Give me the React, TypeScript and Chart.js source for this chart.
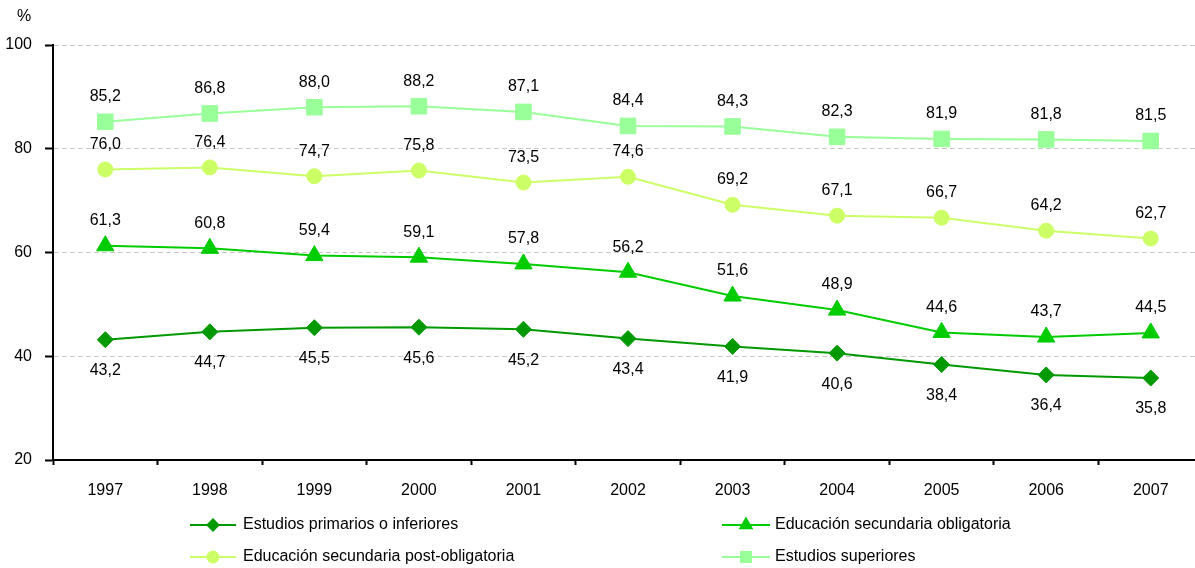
import { useEffect, useRef } from "react";
import { Chart, registerables } from "chart.js";
import { drawPoint } from "chart.js/helpers";

Chart.register(...registerables);

const years = ["1997", "1998", "1999", "2000", "2001", "2002", "2003", "2004", "2005", "2006", "2007"];
const primarios = [43.2, 44.7, 45.5, 45.6, 45.2, 43.4, 41.9, 40.6, 38.4, 36.4, 35.8];
const secundariaObligatoria = [61.3, 60.8, 59.4, 59.1, 57.8, 56.2, 51.6, 48.9, 44.6, 43.7, 44.5];
const secundariaPost = [76.0, 76.4, 74.7, 75.8, 73.5, 74.6, 69.2, 67.1, 66.7, 64.2, 62.7];
const superiores = [85.2, 86.8, 88.0, 88.2, 87.1, 84.4, 84.3, 82.3, 81.9, 81.8, 81.5];
const seriesNames = [
  "Estudios primarios o inferiores",
  "Educación secundaria obligatoria",
  "Educación secundaria post-obligatoria",
  "Estudios superiores",
];
const yMin = 20;
const yMax = 100;
const yStep = 20;
const unitLabel = "%";

const FONT = "'Liberation Sans', Arial, sans-serif";

const dataLabelPlugin = {
  id: "dataLabels",
  afterDatasetsDraw(chart: any) {
    const ctx = chart.ctx;
    ctx.save();
    ctx.font = `16px ${FONT}`;
    ctx.fillStyle = "#000";
    ctx.textAlign = "center";
    ctx.textBaseline = "middle";
    chart.data.datasets.forEach((ds: any, i: number) => {
      const meta = chart.getDatasetMeta(i);
      meta.data.forEach((el: any, j: number) => {
        const v = ds.data[j] as number;
        const txt = v.toFixed(1).replace(".", ",");
        const off = i === 0 ? 31 : -25;
        ctx.fillText(txt, el.x, el.y + off);
      });
    });
    ctx.restore();
  },
};

const legendPlugin = {
  id: "customLegend",
  afterDraw(chart: any) {
    const ctx = chart.ctx;
    const cols = [
      { x0: 190, x1: 236, tx: 243 },
      { x0: 722, x1: 770, tx: 775 },
    ];
    const rows = [525, 557];
    const legendRadius = [5.5, 6.5, 5.5, 7];
    ctx.save();
    ctx.font = `16px ${FONT}`;
    chart.data.datasets.forEach((ds: any, i: number) => {
      const c = cols[i % 2];
      const y = rows[Math.floor(i / 2)];
      ctx.strokeStyle = ds.borderColor;
      ctx.lineWidth = 2;
      ctx.beginPath();
      ctx.moveTo(c.x0, y);
      ctx.lineTo(c.x1, y);
      ctx.stroke();
      ctx.fillStyle = ds.pointBackgroundColor;
      ctx.strokeStyle = ds.pointBackgroundColor;
      drawPoint(ctx, { pointStyle: ds.pointStyle, radius: legendRadius[i], rotation: 0, borderWidth: 1 }, (c.x0 + c.x1) / 2, y);
      ctx.fillStyle = "#000";
      ctx.textAlign = "left";
      ctx.textBaseline = "middle";
      ctx.fillText(ds.label, c.tx, y);
    });
    ctx.font = `16px ${FONT}`;
    ctx.fillStyle = "#000";
    ctx.textAlign = "left";
    ctx.textBaseline = "middle";
    ctx.fillText(unitLabel, 17, 17);
    ctx.restore();
  },
};

export default function App() {
  const ref = useRef<HTMLCanvasElement | null>(null);
  useEffect(() => {
    if (!ref.current) return;
    const mk = (label: string, data: number[], color: string, style: string, r: number) => ({
      label,
      data,
      borderColor: color,
      backgroundColor: color,
      pointBackgroundColor: color,
      pointBorderColor: color,
      pointBorderWidth: 1,
      pointStyle: style,
      pointRadius: r,
      pointHoverRadius: r,
      borderWidth: 2,
      tension: 0,
      fill: false,
    });
    const chart = new Chart(ref.current, {
      type: "line",
      data: {
        labels: years,
        datasets: [
          mk(seriesNames[0], primarios, "#009900", "rectRot", 8),
          mk(seriesNames[1], secundariaObligatoria, "#00CC00", "triangle", 10),
          mk(seriesNames[2], secundariaPost, "#CCFF66", "circle", 7.5),
          mk(seriesNames[3], superiores, "#99FF99", "rect", 11),
        ],
      },
      options: {
        responsive: false,
        animation: false,
        devicePixelRatio: 1,
        layout: { padding: { top: 45, left: 0, right: 10, bottom: 0 } },
        plugins: {
          legend: { display: false },
          tooltip: { enabled: false },
        },
        scales: {
          x: {
            offset: true,
            grid: {
              display: true,
              offset: true,
              drawOnChartArea: false,
              drawTicks: true,
              tickLength: 5,
              color: "#000",
              tickColor: "#000",
              tickWidth: 2,
            },
            border: { display: true, color: "#000", width: 2 },
            ticks: { color: "#000", font: { family: FONT, size: 16 }, padding: 16, maxRotation: 0 },
            afterFit: (s: any) => {
              s.height = 108;
            },
          },
          y: {
            min: yMin,
            max: yMax,
            grid: {
              color: "#c8c8c8",
              lineWidth: 1,
              tickColor: "#000",
              tickLength: 8,
              tickWidth: 2,
              tickBorderDash: [],
            },
            border: { display: true, color: "#000", width: 2, dash: [5, 3] },
            ticks: { stepSize: yStep, color: "#000", font: { family: FONT, size: 16 }, padding: 13 },
            afterFit: (s: any) => {
              s.width = 53;
            },
          },
        },
      },
      plugins: [dataLabelPlugin, legendPlugin],
    } as any);
    return () => chart.destroy();
  }, []);
  return (
    <div style={{ position: "fixed", left: 0, top: 0, width: 1195, height: 568, overflow: "hidden", background: "#fff" }}>
      <canvas ref={ref} width={1215} height={568} style={{ width: 1215, height: 568, display: "block" }} />
    </div>
  );
}
